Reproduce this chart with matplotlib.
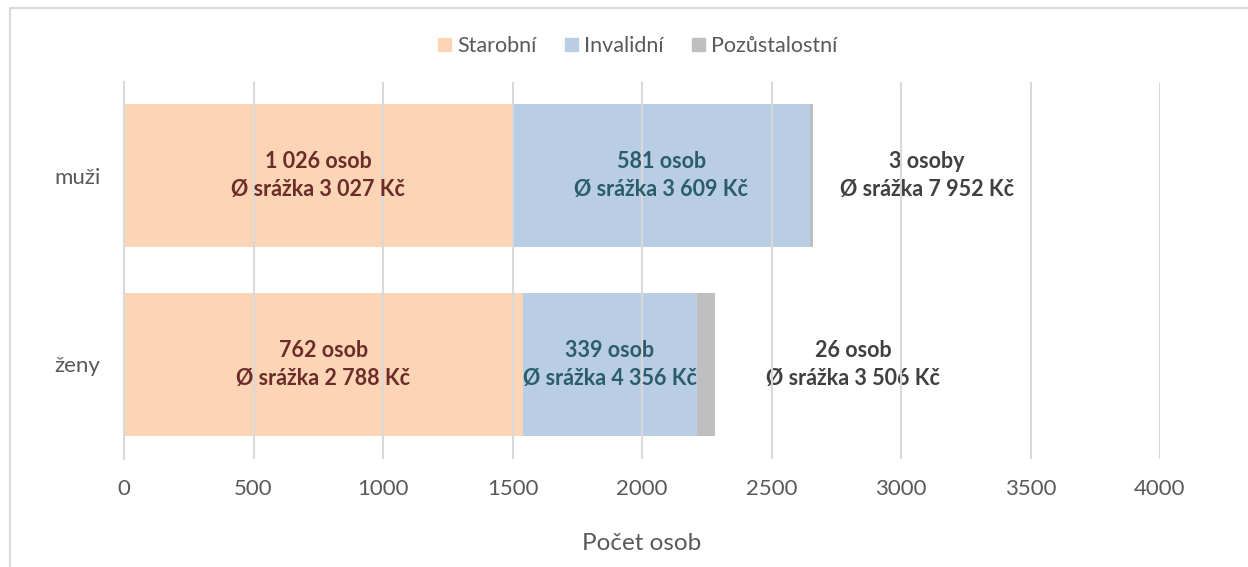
import numpy as np
import matplotlib
matplotlib.use("Agg")
import matplotlib.pyplot as plt
from matplotlib.patches import Rectangle

plt.rcParams['font.family'] = ['Lato', 'DejaVu Sans']

# === DATA ===
categories = ["ženy", "muži"]
series_names = ["Starobní", "Invalidní", "Pozůstalostní"]
starobni = [1540, 1500]
invalidni = [673, 1150]
pozustalostni = [69, 12]

starobni_labels = ["762 osob\nØ srážka 2 788 Kč", "1 026 osob\nØ srážka 3 027 Kč"]
invalidni_labels = ["339 osob\nØ srážka 4 356 Kč", "581 osob\nØ srážka 3 609 Kč"]
pozust_labels = ["26 osob\nØ srážka 3 506 Kč", "3 osoby\nØ srážka 7 952 Kč"]
pozust_label_x = [2815, 3100]  # manually placed boxes to the right of bars

xticks = [0, 500, 1000, 1500, 2000, 2500, 3000, 3500, 4000]

# === STYLE ===
colors = ["#FBD5B5", "#B9CDE5", "#BFBFBF"]
text_colors = ["#6B2C2A", "#2B5D69", "#404040"]
grid_color = "#D9D9D9"
tick_color = "#595959"
lbl_size = 15.5

fig = plt.figure(figsize=(12.48, 5.67), dpi=100)
ax = fig.add_axes([124 / 1248, 1 - 458.5 / 567, (1160 - 124) / 1248, (458.5 - 81.5) / 567])

y = np.arange(len(categories))
h = 0.76
left = np.zeros(len(categories))
for vals, name, col in zip([starobni, invalidni, pozustalostni], series_names, colors):
    ax.barh(y, vals, height=h, left=left, color=col, label=name, zorder=2)
    left = left + np.array(vals)

# labels inside bars
for i in range(len(categories)):
    cx = starobni[i] / 2
    ax.text(cx, y[i], starobni_labels[i], ha="center", va="center", fontsize=lbl_size,
            fontweight="bold", color=text_colors[0], linespacing=1.4, zorder=3)
    cx = starobni[i] + invalidni[i] / 2
    ax.text(cx, y[i], invalidni_labels[i], ha="center", va="center", fontsize=lbl_size,
            fontweight="bold", color=text_colors[1], linespacing=1.4, zorder=3)
    ax.text(pozust_label_x[i], y[i], pozust_labels[i], ha="center", va="center", fontsize=lbl_size,
            fontweight="bold", color=text_colors[2], linespacing=1.4, zorder=0.5)

ax.set_xlim(0, 4000)
ax.set_ylim(-0.5, 1.5)
ax.set_xticks(xticks)
ax.set_xticklabels([str(t) for t in xticks])
ax.set_yticks(y)
ax.set_yticklabels(categories)
ax.tick_params(axis="both", length=0, colors=tick_color, labelsize=16)
ax.tick_params(axis="x", pad=15)
ax.tick_params(axis="y", pad=17)
ax.grid(axis="x", color=grid_color, linewidth=1.5, zorder=1)
ax.set_axisbelow(False)
for s in ["top", "right", "bottom"]:
    ax.spines[s].set_visible(False)
ax.spines["left"].set_color(grid_color)
ax.spines["left"].set_linewidth(1.5)
ax.spines["left"].set_zorder(4)

ax.set_xlabel("Počet osob", fontsize=17.5, color=tick_color, labelpad=24)

handles = [Rectangle((0, 0), 1, 1, color=c) for c in colors]
fig.legend(handles, series_names, loc="center", bbox_to_anchor=(638 / 1248, 1 - 46 / 567),
           ncol=3, frameon=False, fontsize=15.5, handlelength=0.6, handleheight=0.6,
           handletextpad=0.3, columnspacing=1.3, labelcolor=tick_color)

# chart border
fig.patches.append(Rectangle((10 / 1248, -0.1), 1.2, 1 - 8 / 567 + 0.1, transform=fig.transFigure,
                             fill=False, edgecolor="#D9D9D9", linewidth=1.5))

fig.savefig("out.png", dpi=100)
